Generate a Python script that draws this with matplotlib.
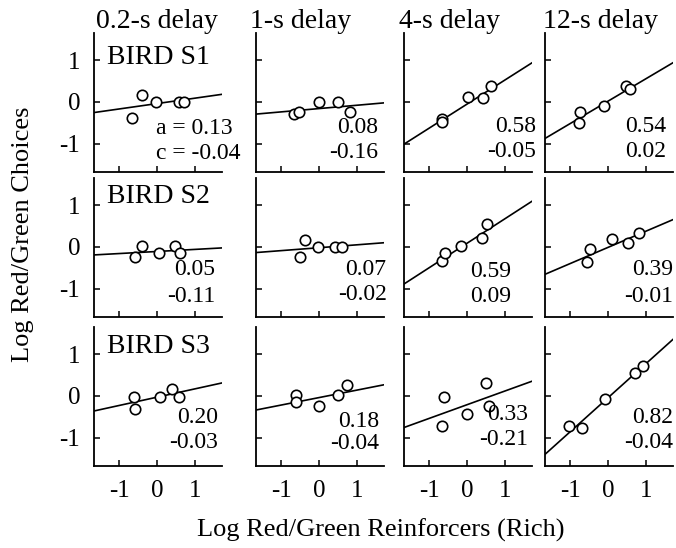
import numpy as np
import matplotlib
matplotlib.use("Agg")
import matplotlib.pyplot as plt

plt.rcParams['font.family'] = ['Liberation Serif', 'DejaVu Serif']

delays = ["0.2-s delay", "1-s delay", "4-s delay", "12-s delay"]
birds = ["BIRD S1", "BIRD S2", "BIRD S3"]

# log reinforcer ratios (x) and log choice ratios (y), per bird (row) and delay (column)
x_s1 = [[-0.66, -0.40, -0.03, 0.57, 0.71],
        [-0.65, -0.54, 0.00, 0.50, 0.80],
        [-0.67, -0.67, 0.01, 0.42, 0.62],
        [-0.78, -0.73, -0.12, 0.47, 0.57]]
y_s1 = [[-0.39, 0.16, 0.00, 0.00, 0.00],
        [-0.30, -0.25, 0.00, 0.00, -0.24],
        [-0.40, -0.48, 0.11, 0.10, 0.38],
        [-0.50, -0.24, -0.11, 0.39, 0.31]]
x_s2 = [[-0.58, -0.39, 0.05, 0.46, 0.61],
        [-0.50, -0.38, -0.04, 0.41, 0.59],
        [-0.65, -0.59, -0.17, 0.38, 0.52],
        [-0.56, -0.49, 0.09, 0.51, 0.82]]
y_s2 = [[-0.25, 0.02, -0.15, 0.02, -0.15],
        [-0.24, 0.16, 0.00, 0.00, 0.00],
        [-0.34, -0.14, 0.03, 0.21, 0.54],
        [-0.37, -0.06, 0.20, 0.10, 0.34]]
x_s3 = [[-0.61, -0.59, 0.08, 0.40, 0.58],
        [-0.60, -0.60, 0.00, 0.50, 0.73],
        [-0.67, -0.61, 0.00, 0.49, 0.57],
        [-1.02, -0.69, -0.09, 0.69, 0.91]]
y_s3 = [[-0.02, -0.31, -0.02, 0.16, -0.02],
        [0.02, -0.15, -0.24, 0.02, 0.26],
        [-0.73, -0.02, -0.44, 0.31, -0.24],
        [-0.72, -0.78, -0.08, 0.54, 0.72]]

# fitted sensitivity (a) and bias (c)
a_vals = [[0.13, 0.08, 0.58, 0.54],
          [0.05, 0.07, 0.59, 0.39],
          [0.20, 0.18, 0.33, 0.82]]
c_vals = [[-0.04, -0.16, -0.05, 0.02],
          [-0.11, -0.02, 0.09, -0.01],
          [-0.03, -0.04, -0.21, -0.04]]

x_ticks = [-1, 0, 1]
y_ticks = [-1, 0, 1]

X = [x_s1, x_s2, x_s3]
Y = [y_s1, y_s2, y_s3]

# layout (pixels)
W, H = 676, 548
col_left = [94, 256, 404, 545]
title_left = [96, 250, 399, 543]
row_top = [33, 178, 327]
ax_w, ax_h = 128, 139
XLIM = (-1.66, 1.70)
YLIM = (-1.68, 1.65)

# annotation placement (axes fraction): x right edge, y upper, y lower
ann_x = [[0.485, 0.955, 1.03, 0.95],
         [0.95, 1.02, 0.84, 1.00],
         [0.97, 0.96, 0.97, 1.00]]
ann_y1 = [[0.31, 0.32, 0.33, 0.33],
          [0.34, 0.345, 0.33, 0.34],
          [0.35, 0.32, 0.37, 0.35]]
ann_y2 = [[0.13, 0.14, 0.15, 0.15],
          [0.15, 0.16, 0.15, 0.15],
          [0.17, 0.16, 0.19, 0.17]]

fig = plt.figure(figsize=(W / 100, H / 100), dpi=100)

for r in range(3):
    for c in range(4):
        left = col_left[c] / W
        bottom = (H - row_top[r] - ax_h) / H
        ax = fig.add_axes([left, bottom, ax_w / W, ax_h / H])
        ax.set_xlim(*XLIM)
        ax.set_ylim(*YLIM)
        for s in ['top', 'right']:
            ax.spines[s].set_visible(False)
        for s in ['left', 'bottom']:
            ax.spines[s].set_linewidth(1.3)
        ax.set_xticks(x_ticks)
        ax.set_yticks(y_ticks)
        ax.tick_params(direction='in', length=4, width=1.1, pad=10, labelsize=18)
        if c != 0:
            ax.set_yticklabels([])
        else:
            ax.set_yticklabels([str(t) for t in y_ticks])
        if r != 2:
            ax.set_xticklabels([])
        else:
            ax.set_xticklabels([str(t) for t in x_ticks])
        xs = np.array(XLIM)
        ax.plot(xs, a_vals[r][c] * xs + c_vals[r][c], color='black', lw=1.2)
        ax.plot(X[r][c], Y[r][c], 'o', mfc='white', mec='black', mew=1.2, ms=7.5,
                clip_on=False)
        if r == 0:
            fig.text(title_left[c] / W, (H - 28) / H, delays[c], fontsize=20,
                     ha='left', va='baseline')
        if c == 0:
            ax.text(0.10, [0.825, 0.87, 0.86][r], birds[r], transform=ax.transAxes,
                    fontsize=20, ha='left', va='center')
        if r == 0 and c == 0:
            ax.text(ann_x[r][c], ann_y1[r][c], f"a = {a_vals[r][c]:.2f}",
                    transform=ax.transAxes, fontsize=17, ha='left', va='center')
            ax.text(ann_x[r][c], ann_y2[r][c], f"c = {c_vals[r][c]:.2f}",
                    transform=ax.transAxes, fontsize=17, ha='left', va='center')
        else:
            ax.text(ann_x[r][c], ann_y1[r][c], f"{a_vals[r][c]:.2f}",
                    transform=ax.transAxes, fontsize=17, ha='right', va='center')
            ax.text(ann_x[r][c], ann_y2[r][c], f"{c_vals[r][c]:.2f}",
                    transform=ax.transAxes, fontsize=17, ha='right', va='center')

fig.text(381 / W, (H - 537) / H, "Log Red/Green Reinforcers (Rich)", fontsize=19,
         ha='center', va='baseline')
fig.text(23 / W, 1 - 234.5 / H, "Log Red/Green Choices", fontsize=19,
         ha='center', va='center', rotation=90)

fig.savefig("out.png", dpi=100)
